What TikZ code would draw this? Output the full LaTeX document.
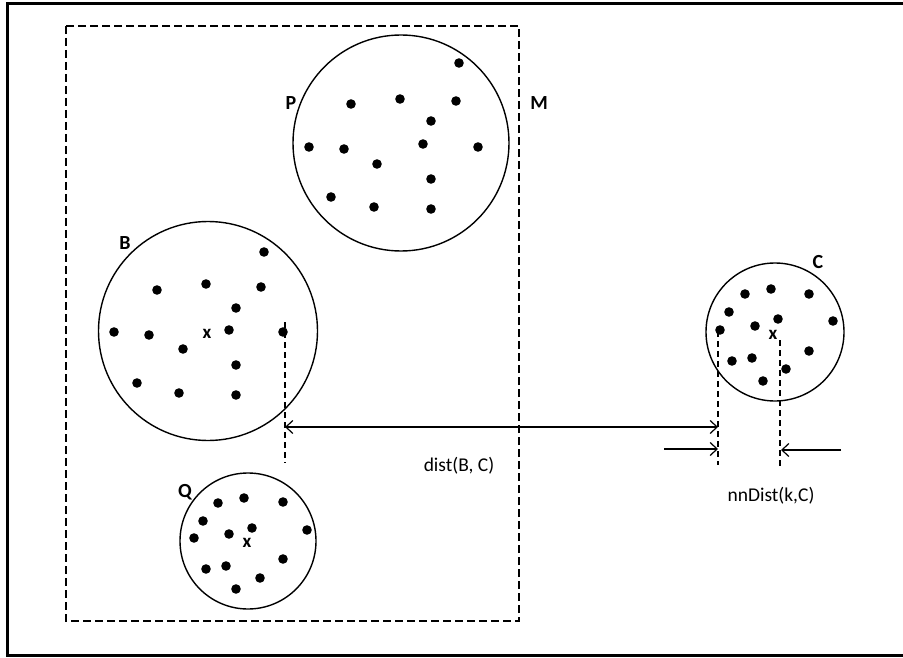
\documentclass[tikz,border=0pt]{standalone}
\usepackage{fontspec}
\setmainfont{Carlito}
\usetikzlibrary{arrows.meta}

\tikzset{
  cluster/.style={circle, draw, line width=1.4pt, minimum size=#1, inner sep=0pt},
  tag/.style={font=\bfseries\fontsize{20}{20}\selectfont, inner sep=0pt},
  centre/.style={font=\bfseries\fontsize{19}{19}\selectfont, inner sep=0pt},
  txt/.style={font=\fontsize{19.5}{20}\selectfont, inner sep=0pt},
  guide/.style={line width=1.1pt, dash pattern=on 6pt off 4pt},
  barb/.tip={Straight Barb[length=7pt,width=13pt]},
  measure/.style={line width=1.2pt, -barb},
  span/.style={line width=1.2pt, barb-barb},
}

\begin{document}
\begin{tikzpicture}[x=1pt, y=-1pt]
  \useasboundingbox (0,0) rectangle (903,658);
  % outer frame, its right side runs off the page
  \draw[line width=3pt] (7.5,3.5) rectangle (920,655);

  % region M
  \draw[line width=1.3pt, dash pattern=on 8pt off 4pt] (66,26) rectangle (519,621);
  \node[tag] (m) at (539,103) {M};

  % clusters
  \node[cluster=216pt] (P) at (401,143) {};
  \node[cluster=219pt] (B) at (208,331) {};
  \node[cluster=136pt] (Q) at (248,541) {};
  \node[cluster=138pt] (C) at (775,332) {};

  \node[tag] (p) at (291,103) {P};
  \node[tag] (b) at (125,243) {B};
  \node[tag] (q) at (185,492) {Q};
  \node[tag] (c) at (818,262) {C};

  % points of each cluster
  \foreach \x/\y in {459/63, 351/104, 400/99, 456/101, 431/121, 309/147, 344/149,
                     423/144, 478/147, 377/164, 431/179, 331/197, 374/207, 431/209}
    \fill (\x,\y) circle (4.8pt);
  \foreach \x/\y in {264/252, 157/290, 206/284, 261/287, 236/308, 114/332, 149/335,
                     229/330, 283/332, 183/349, 236/365, 137/383, 179/393, 236/395}
    \fill (\x,\y) circle (4.8pt);
  \foreach \x/\y in {218/503, 244/498, 283/502, 203/521, 229/534, 252/528, 194/538,
                     307/530, 206/569, 226/566, 283/559, 260/578, 236/589}
    \fill (\x,\y) circle (4.8pt);
  \foreach \x/\y in {745/294, 771/289, 809/294, 729/312, 755/326, 778/319, 833/321,
                     720/330, 732/361, 752/358, 809/351, 786/369, 763/381}
    \fill (\x,\y) circle (4.8pt);

  % cluster centres
  \node[centre] (xb) at (207,334) {x};
  \node[centre] (xq) at (247,543) {x};
  \node[centre] (xc) at (773,335) {x};

  % guides
  \coordinate (b1) at (285,322);
  \coordinate (b2) at (285,463);
  \coordinate (c1) at (718,331);
  \coordinate (c2) at (718,465);
  \coordinate (k1) at (780,340);
  \coordinate (k2) at (780,468);
  \draw[guide] (b1) -- (b2);
  \draw[guide] (c1) -- (c2);
  \draw[guide] (k1) -- (k2);

  % distances
  \coordinate (d1) at (285,427);
  \coordinate (d2) at (718,427);
  \draw[span] (d1) -- (d2);
  \coordinate (n1) at (664,449);
  \coordinate (n2) at (718,449);
  \coordinate (n3) at (841,450);
  \coordinate (n4) at (781,450);
  \draw[measure] (n1) -- (n2);
  \draw[measure] (n3) -- (n4);

  \node[txt] (dist) at (459,466) {dist(B, C)};
  \node[txt] (nn) at (771,496) {nnDist(k,C)};
\end{tikzpicture}
\end{document}
